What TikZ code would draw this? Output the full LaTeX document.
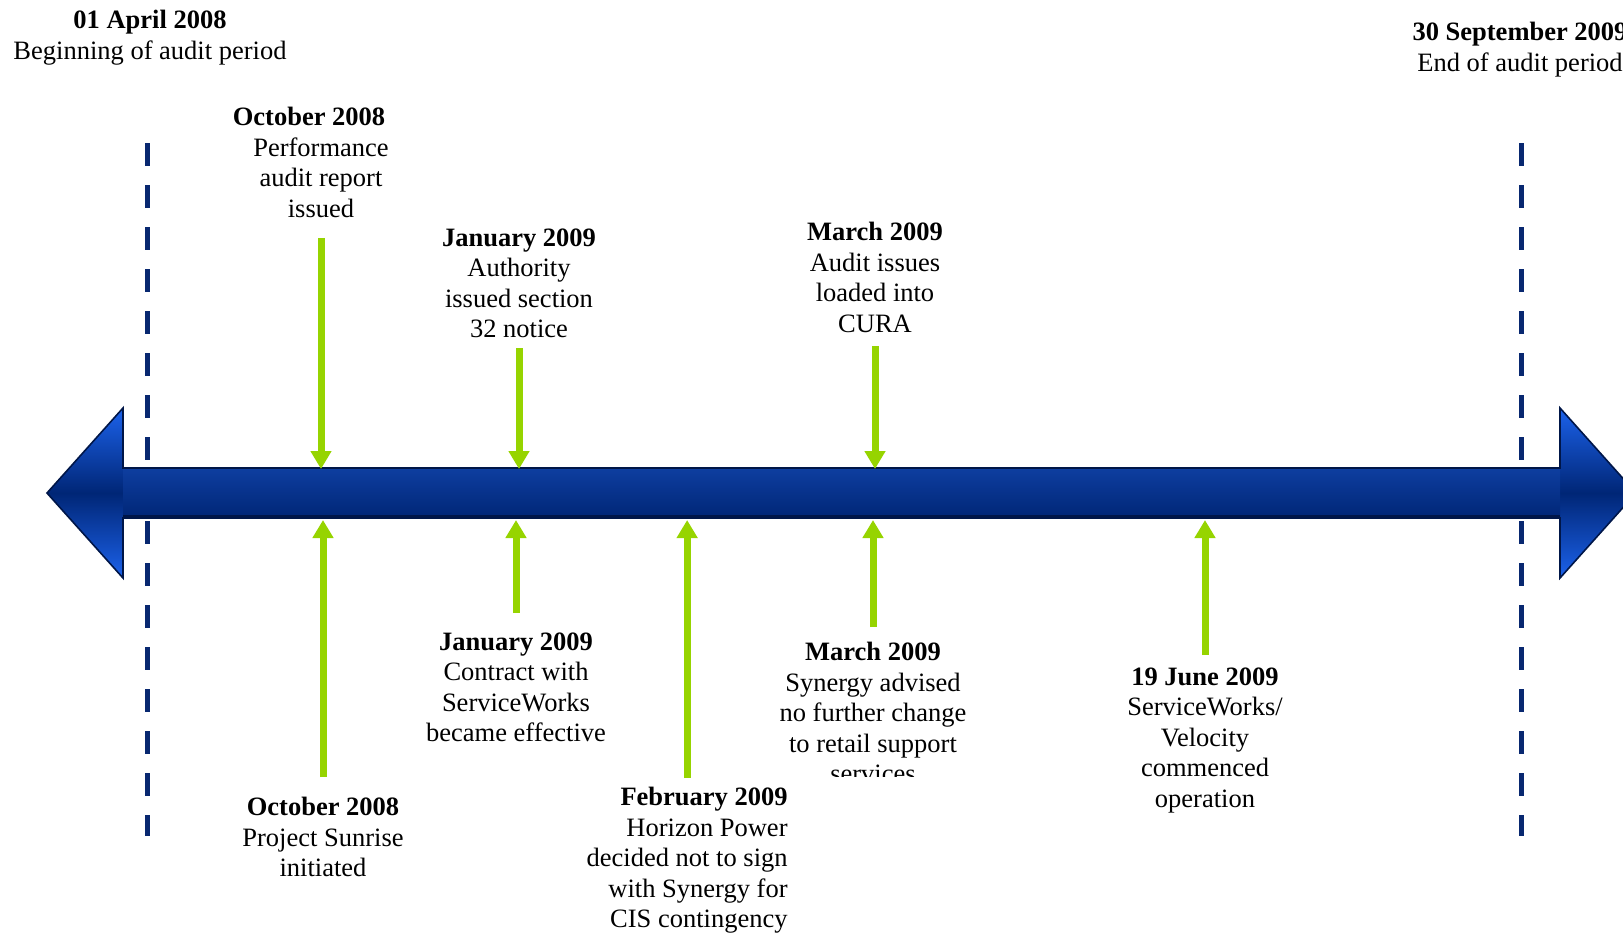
\documentclass[tikz,border=0pt]{standalone}
\usepackage{fontspec}
\setmainfont{Liberation Serif}
\usepackage{tikz}
\usetikzlibrary{arrows.meta,calc,positioning}

\definecolor{axisnavy}{RGB}{0,38,118}
\definecolor{axisblue}{RGB}{28,98,235}
\definecolor{axisedge}{RGB}{0,22,72}
\definecolor{shafttop}{RGB}{14,62,160}
\definecolor{periodnavy}{RGB}{8,40,112}
\definecolor{eventgreen}{RGB}{150,212,0}

\begin{document}
\begin{tikzpicture}[x=0.5pt, y=-0.5pt,
    event/.style={align=center, inner sep=0pt, font=\fontsize{13.25}{15.25}\selectfont},
    eventarrow/.style={draw=eventgreen, line width=3.5pt, -{Triangle[width=10pt,length=9pt]}},
    periodline/.style={draw=periodnavy, line width=2.5pt, dash pattern=on 11.5pt off 9.5pt}]

    \useasboundingbox (0,0) rectangle (1623,934);

    % draw audit period lines
    \coordinate (startTop) at (147,143);
    \coordinate (startBot) at (147,836);
    \coordinate (endTop) at (1521,143);
    \coordinate (endBot) at (1521,836);
    \draw[periodline] (startTop) -- (startBot);
    \draw[periodline] (endTop) -- (endBot);

    % draw time axis
    \fill[top color=axisblue, bottom color=axisblue, middle color=axisnavy]
        (47,493) -- (123,408) -- (123,468) -- (1560,468) -- (1560,408) -- (1636,493)
        -- (1560,578) -- (1560,518) -- (123,518) -- (123,578) -- cycle;
    \fill[top color=shafttop, bottom color=axisnavy]
        (123,468) rectangle (1560,518);
    \draw[axisedge, line width=1.5pt] (123,516) -- (1560,516);
    \draw[axisedge, line width=0.8pt]
        (47,493) -- (123,408) -- (123,468) -- (1560,468) -- (1560,408) -- (1636,493)
        -- (1560,578) -- (1560,518) -- (123,518) -- (123,578) -- cycle;
    \coordinate (shaftTop) at (0,469);
    \coordinate (shaftBot) at (0,520);

    % draw period labels
    \node[event, anchor=north] (auditStart) at (150,10) {\textbf{01 April 2008}\\Beginning of audit period};
    \node[event, anchor=north] (auditEnd) at (1520,22) {\textbf{30 September 2009}\\End of audit period};

    % draw events above the axis
    \node[event, anchor=north] (octIssued) at (321,107) {\textbf{October 2008}\kern12pt\\Performance\\audit report\\issued};
    \node[event, anchor=north] (janNotice) at (519,228) {\textbf{January 2009}\\Authority\\issued section\\32 notice};
    \node[event, anchor=north] (marCura) at (875,222) {\textbf{March 2009}\\Audit issues\\loaded into\\CURA};

    % draw events below the axis
    \node[event, anchor=north] (octSunrise) at (323,797) {\textbf{October 2008}\\Project Sunrise\\initiated};
    \node[event, anchor=north] (janContract) at (516,632) {\textbf{January 2009}\\Contract with\\ServiceWorks\\became effective};
    \node[event, align=right, anchor=north east] (febHorizon) at (788,787) {\textbf{February 2009}\\Horizon Power\\decided not to sign\\with Synergy for\\CIS contingency};
    \begin{scope}
        \clip (700,600) rectangle (1050,776);
        \node[event, anchor=north] (marSynergy) at (873,642) {\textbf{March 2009}\\Synergy advised\\no further change\\to retail support\\services};
    \end{scope}
    \node[event, anchor=north] (junVelocity) at (1205,667) {\textbf{19 June 2009}\\ServiceWorks/\\Velocity\\commenced\\operation};

    % draw event arrows
    \foreach \ev/\gap in {octIssued/10pt, janNotice/5pt, marCura/6.5pt}
        \draw[eventarrow, shorten <=\gap] (\ev.south) -- (\ev.south |- shaftTop);
    \foreach \ev/\gap in {octSunrise/10pt, janContract/9.5pt, febHorizon/4.5pt, marSynergy/7.5pt, junVelocity/6pt}
        \draw[eventarrow, shorten <=\gap] (\ev.north) -- (\ev.north |- shaftBot);

\end{tikzpicture}
\end{document}
